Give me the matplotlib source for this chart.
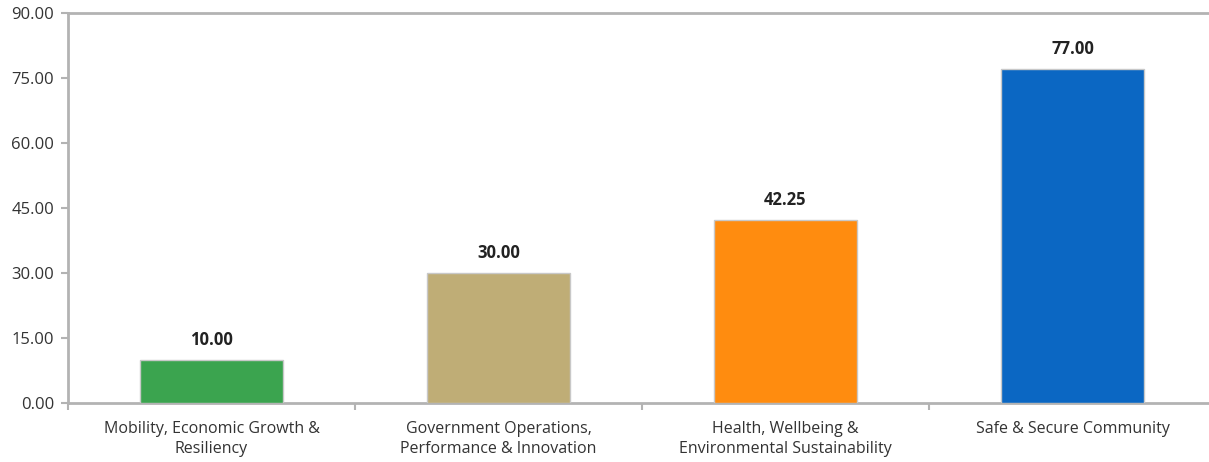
import numpy as np
import matplotlib.pyplot as plt

categories = ["Mobility, Economic Growth &\nResiliency",
              "Government Operations,\nPerformance & Innovation",
              "Health, Wellbeing &\nEnvironmental Sustainability",
              "Safe & Secure Community"]
values = [10.00, 30.00, 42.25, 77.00]
colors = ["#3ba44f", "#bfad76", "#ff8c0f", "#0b67c3"]
yticks = [0, 15, 30, 45, 60, 75, 90]

plt.rcParams['font.family'] = ['Open Sans', 'DejaVu Sans']

fig = plt.figure(figsize=(12.09, 4.62), dpi=100)
W, H = 1209, 462
ax = fig.add_axes([68/W, 1-403/H, 1148/W, 390/H])

x = np.arange(len(categories))
ax.bar(x, values, width=0.5, color=colors, edgecolor="#c8c8c8", linewidth=1, zorder=3)
for xi, v in zip(x, values):
    ax.annotate(f"{v:.2f}", (xi, v), xytext=(0, 8), textcoords="offset points",
                ha="center", va="bottom", fontsize=12, fontweight="bold", color="#222222")

ax.set_xlim(-0.5, 3.5)
ax.set_ylim(0, 90)
ax.set_yticks(yticks)
ax.set_yticklabels([f"{t:.2f}" for t in yticks], fontsize=12, color="#333333")
ax.set_xticks(x)
ax.set_xticklabels(categories, fontsize=11.5, color="#333333", linespacing=1.35)
ax.set_xticks(np.arange(-0.5, 4, 1), minor=True)
ax.tick_params(axis="x", which="major", length=0, pad=13)
ax.tick_params(axis="x", which="minor", length=5, color="#b3b3b3", width=1.5)
ax.tick_params(axis="y", length=5, color="#b3b3b3", width=1.5, pad=5)

for s in ["left", "top", "bottom"]:
    ax.spines[s].set_color("#b3b3b3")
    ax.spines[s].set_linewidth(2)
ax.spines["right"].set_visible(False)

fig.savefig("out.png", dpi=100)
